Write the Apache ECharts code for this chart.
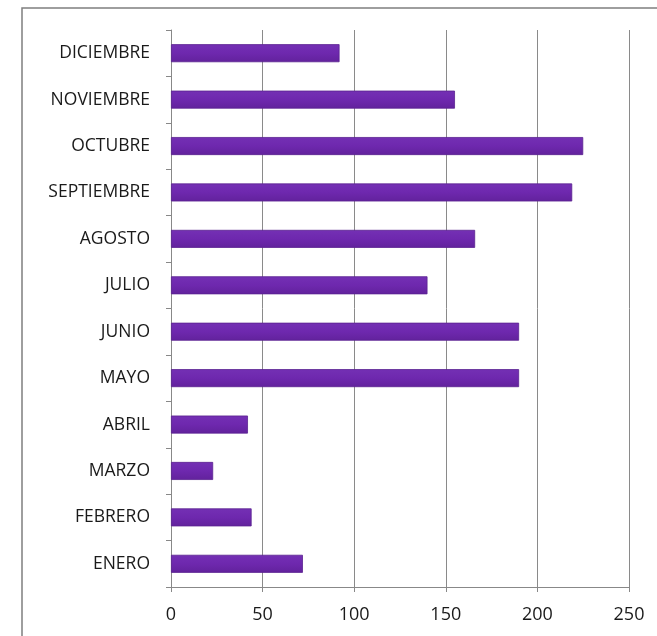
<!DOCTYPE html>
<html>
<head>
<meta charset="utf-8">
<style>
  html, body { margin: 0; padding: 0; background: #fff; }
  #chart { width: 657px; height: 636px; }
</style>
<script src="https://cdn.jsdelivr.net/npm/echarts@6/dist/echarts.min.js"></script>
</head>
<body>
<div id="chart"></div>
<script>
// meses, de abajo hacia arriba
var months = ["ENERO", "FEBRERO", "MARZO", "ABRIL", "MAYO", "JUNIO", "JULIO",
  "AGOSTO", "SEPTIEMBRE", "OCTUBRE", "NOVIEMBRE", "DICIEMBRE"];
var values = [72, 44, 23, 42, 190, 190, 140, 166, 219, 225, 155, 92];
var xTicks = [0, 50, 100, 150, 200, 250];

var chart = echarts.init(document.getElementById("chart"));
var option = {
  animation: false,
  textStyle: { fontFamily: "Open Sans" },
  graphic: [
    {
      type: "rect",
      shape: { x: 22, y: 8, width: 700, height: 700 },
      style: { fill: "none", stroke: "#7f7f7f", lineWidth: 1.5 },
      silent: true
    }
  ],
  grid: { left: 171, right: 28, top: 30, bottom: 49 },
  xAxis: {
    type: "value",
    min: xTicks[0],
    max: xTicks[xTicks.length - 1],
    interval: 50,
    axisLine: { show: true, lineStyle: { color: "#888", width: 1 } },
    axisTick: { show: true, length: 5, lineStyle: { color: "#888" } },
    splitLine: { show: true, lineStyle: { color: "#8a8a8a", width: 1 } },
    axisLabel: { color: "#1a1a1a", fontSize: 18, margin: 19 }
  },
  yAxis: {
    type: "category",
    data: months,
    axisLine: { show: true, lineStyle: { color: "#888", width: 1 } },
    axisTick: { show: true, length: 5, lineStyle: { color: "#888" } },
    axisLabel: { color: "#1a1a1a", fontSize: 17.5, margin: 21 }
  },
  series: [
    {
      type: "bar",
      data: values,
      barWidth: 18,
      itemStyle: {
        color: new echarts.graphic.LinearGradient(0, 0, 0, 1, [
          { offset: 0, color: "#7430b4" },
          { offset: 0.5, color: "#6e28ae" },
          { offset: 1, color: "#62229c" }
        ]),
        borderColor: "#5a2290",
        borderWidth: 0.8
      }
    }
  ]
};
chart.setOption(option);
</script>
</body>
</html>
